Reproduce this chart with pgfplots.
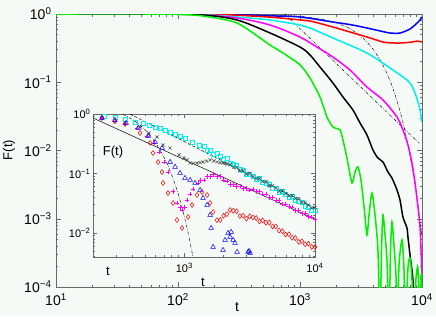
\documentclass[border=0pt]{standalone}
\usepackage{fontspec}
\setmainfont{Liberation Sans}
\usepackage{pgfplots}
\pgfplotsset{compat=1.18}
\definecolor{bg}{RGB}{246,250,246}
\definecolor{axgray}{RGB}{105,105,105}
\definecolor{mblue}{RGB}{0,0,255}
\definecolor{mred}{RGB}{255,0,0}
\definecolor{mcyan}{RGB}{0,238,238}
\definecolor{mmag}{RGB}{255,0,255}
\definecolor{mgreen}{RGB}{0,240,0}
\tikzset{dd/.style={black, line width=0.45pt, dash pattern=on 3pt off 1.5pt on 0.6pt off 1.5pt}}
\begin{document}
\begin{tikzpicture}[x=1pt,y=1pt]
\useasboundingbox (0,0) rectangle (436,316);
\fill[bg] (0,0) rectangle (436,316);
% ---------------- main axis ----------------
\begin{axis}[
  xmode=log, ymode=log,
  scale only axis, anchor=south west,
  at={(56pt,29pt)}, width=366pt, height=273pt,
  xmin=10, xmax=10000, ymin=1e-4, ymax=1,
  axis line style={axgray, line width=0.6pt},
  every tick/.style={axgray, line width=0.5pt},
  tick align=inside,
  axis background/.style={fill=bg},
  major tick length=5pt, minor tick length=2.5pt,
  xtick={10,100,1000,10000},
  xticklabels={10\textsuperscript{1},10\textsuperscript{2},10\textsuperscript{3},10\textsuperscript{4}},
  ytick={0.0001,0.001,0.01,0.1,1},
  yticklabels={10\textsuperscript{−4},10\textsuperscript{−3},10\textsuperscript{−2},10\textsuperscript{−1},10\textsuperscript{0}},
  minor xtick={20,30,40,50,60,70,80,90,200,300,400,500,600,700,800,900,2000,3000,4000,5000,6000,7000,8000,9000},
  minor ytick={0.0002,0.0003,0.0004,0.0005,0.0006,0.0007,0.0008,0.0009,0.002,0.003,0.004,0.005,0.006,0.007,0.008,0.009,0.02,0.03,0.04,0.05,0.06,0.07,0.08,0.09,0.2,0.3,0.4,0.5,0.6,0.7,0.8,0.9},
  ticklabel style={font=\fontsize{14}{14}\selectfont},
  xticklabel style={yshift=-3pt},
  yticklabel style={xshift=-1pt},
]
% dash-dot guide lines
\addplot[dd] coordinates {(300,0.993)(1000,0.9277)(1500,0.8446)(2000,0.7406)(2500,0.6256)(3000,0.5089)(3500,0.3987)(4000,0.3009)(4500,0.2187)(5000,0.1531)(5500,0.1033)(6000,0.0671)(6500,0.0420)(7000,0.02527)(7500,0.01467)(8000,0.00819)(8500,0.00441)(9000,0.00229)(9500,0.00114)(10000,0.00055)};
\addplot[dd] coordinates {(750,1.0)(9500,0.01274)};
% blue
\addplot[mblue, line width=1.5pt, smooth] coordinates {(10,1)(100,1)(200,0.995)(305,0.975)(568,0.94)(1000,0.904)(1862,0.763)(2570,0.70)(3540,0.624)(4529,0.565)(5470,0.527)(6607,0.527)(7980,0.603)(8933,0.714)(9638,0.817)(10000,0.904)};
% red
\addplot[mred, line width=1.5pt, smooth] coordinates {(10,1)(100,1)(200,0.99)(305,0.96)(568,0.90)(1000,0.82)(1208,0.79)(1862,0.645)(3540,0.46)(4786,0.389)(5500,0.378)(6607,0.376)(8000,0.385)(9099,0.40)(10000,0.389)};
% cyan
\addplot[mcyan, line width=1.5pt, smooth] coordinates {(10,1)(100,1)(160,0.98)(305,0.904)(568,0.817)(1000,0.69)(1208,0.624)(1862,0.445)(3540,0.268)(5781,0.151)(7534,0.108)(8279,0.088)(8770,0.0695)(9268,0.0514)(9638,0.0392)(10000,0.0262)};
% magenta
\addplot[mmag, line width=1.5pt, smooth] coordinates {(10,1)(86,1)(160,0.967)(305,0.874)(568,0.69)(1000,0.46)(1377,0.328)(1862,0.234)(2570,0.151)(3540,0.0851)(4786,0.055)(6237,0.031)(6982,0.020)(7674,0.01205)(8279,0.00656)(8770,0.00334)(9268,0.00149)(9638,0.000757)(9817,0.000348)(10000,0.00016)(10100,0.00004)};
% black
\addplot[black, line width=1.5pt, smooth] coordinates {(10,1)(58.9,1)(160,0.967)(305,0.817)(568,0.527)(1000,0.328)(1208,0.251)(1459,0.167)(1862,0.0975)(2250,0.0608)(2718,0.0392)(3105,0.0253)(3540,0.0169)(3963,0.01017)(4355,0.00776)(4786,0.00679)(5260,0.00484)(5675,0.00395)(6237,0.00264)(6607,0.00188)(6982,0.00106)(7534,0.000731)(7674,0.000541)(7980,0.000294)(8279,0.000177)(8433,0.000127)(8770,0.00005)};
% green
\addplot[mgreen, line width=1.5pt, smooth, tension=0.4] coordinates {(10,1)(58.9,1)(100,0.99)(160,0.935)(305,0.738)(568,0.351)(726,0.268)(1000,0.18)(1208,0.115)(1459,0.0608)(1663,0.031)(1862,0.0221)(2128,0.020)(2250,0.01426)(2427,0.00776)(2667,0.00334)(2825,0.00484)(2985,0.00574)(3162,0.0037)(3350,0.00149)(3540,0.000578)(3681,0.00114)(3890,0.00238)(4121,0.00114)(4355,0.000348)(4529,0.00003)(4656,0.000348)(4786,0.00114)(4977,0.000578)(5164,0.000249)(5370,0.00003)(5521,0.000348)(5675,0.000895)(5888,0.000412)(6120,0.00015)(6295,0.00003)(6477,0.00021)(6855,0.000489)(7112,0.00019)(7322,0.00003)(7674,0.00019)(7980,0.000266)(8279,0.000127)(8511,0.00003)(8933,0.000135)(9268,0.00019)(9550,0.00003)(9817,0.00015)(10000,0.00008)};
\end{axis}
% ---------------- inset ----------------
\begin{axis}[
  xmode=log, ymode=log,
  scale only axis, anchor=south west,
  at={(93pt,59pt)}, width=222pt, height=143pt,
  xmin=200, xmax=10000, ymin=0.00395, ymax=1,
  axis line style={axgray, line width=0.6pt},
  every tick/.style={axgray, line width=0.5pt},
  tick align=inside,
  axis background/.style={fill=bg},
  major tick length=4pt, minor tick length=2pt,
  xtick={1000,10000},
  xticklabels={10\textsuperscript{3},10\textsuperscript{4}},
  ytick={0.01,0.1,1},
  yticklabels={10\textsuperscript{−2},10\textsuperscript{−1},10\textsuperscript{0}},
  minor xtick={300,400,500,600,700,800,900,2000,3000,4000,5000,6000,7000,8000,9000},
  minor ytick={0.004,0.005,0.006,0.007,0.008,0.009,0.02,0.03,0.04,0.05,0.06,0.07,0.08,0.09,0.2,0.3,0.4,0.5,0.6,0.7,0.8,0.9},
  ticklabel style={font=\fontsize{11}{11}\selectfont},
  yticklabel style={xshift=1pt},
  xticklabel style={yshift=-3pt},
]
% cyan squares
\addplot[only marks, mark=square, mark size=2pt, mcyan, mark options={line width=0.55pt}] coordinates {(243,0.925)(294,0.891)(352,0.824)(419,0.734)(483,0.706)(537,0.653)(597,0.605)(652,0.582)(711,0.538)(778,0.498)(849,0.461)(927,0.427)(1012,0.395)(1146,0.338)(1297,0.301)(1413,0.288)(1496,0.248)(1585,0.245)(1679,0.211)(1778,0.216)(1884,0.195)(1995,0.174)(2113,0.178)(2239,0.151)(2371,0.1445)(2512,0.138)(2661,0.1175)(2818,0.1148)(2985,0.0977)(3162,0.0989)(3350,0.0891)(3548,0.0794)(3758,0.0822)(3981,0.0708)(4217,0.0684)(4467,0.0661)(4732,0.0569)(5012,0.0562)(5309,0.0484)(5623,0.0495)(5957,0.0447)(6310,0.0398)(6683,0.0412)(7079,0.0355)(7499,0.0343)(7943,0.0331)(8414,0.0285)(8913,0.0275)(9441,0.0237)(10000,0.0237)};
% black x
\addplot[only marks, mark=x, mark size=2.2pt, black!75, mark options={line width=0.5pt}] coordinates {(234,0.857)(294,0.734)(352,0.706)(458,0.605)(537,0.480)(618,0.410)(687,0.301)(778,0.268)(912,0.205)(995,0.182)(1050,0.169)(1107,0.150)(1180,0.148)(1250,0.150)(1320,0.153)(1390,0.156)(1480,0.162)(1574,0.169)(1680,0.163)(1782,0.156)(1880,0.152)(1977,0.150)(2050,0.147)(2113,0.1445)(2239,0.141)(2371,0.126)(2512,0.127)(2661,0.111)(2818,0.112)(2985,0.0977)(3162,0.101)(3350,0.0891)(3548,0.0822)(3758,0.0832)(3981,0.0733)(4217,0.0733)(4467,0.0617)(4732,0.0624)(5012,0.0569)(5309,0.0501)(5623,0.0519)(5957,0.0457)(6310,0.0422)(6683,0.0427)(7079,0.0380)(7499,0.0380)(7943,0.0324)(8414,0.0324)(8913,0.0295)(9441,0.0263)(10000,0.0269)};
% magenta +
\addplot[only marks, mark=+, mark size=2.3pt, mmag, mark options={line width=0.55pt}] coordinates {(234,0.857)(294,0.762)(352,0.679)(434,0.582)(518,0.427)(586,0.326)(640,0.230)(700,0.156)(750,0.106)(820,0.05)(879,0.032)(927,0.027)(960,0.0244)(1000,0.027)(1050,0.0359)(1107,0.0452)(1167,0.0549)(1274,0.0692)(1334,0.0759)(1413,0.0776)(1496,0.0885)(1585,0.0891)(1679,0.0973)(1778,0.0881)(1884,0.0891)(1995,0.0776)(2113,0.0750)(2239,0.0653)(2371,0.0653)(2512,0.0603)(2661,0.0615)(2818,0.0556)(2985,0.0565)(3162,0.0527)(3350,0.0547)(3548,0.0495)(3758,0.0507)(3981,0.0454)(4217,0.0452)(4467,0.0396)(4732,0.0394)(5012,0.0355)(5309,0.0352)(5623,0.0309)(5957,0.0308)(6310,0.0276)(6683,0.0275)(7079,0.0241)(7499,0.0240)(7943,0.0215)(8414,0.0214)(8913,0.0188)(9441,0.0187)(10000,0.0168)};
% red diamonds
\addplot[only marks, mark=diamond, mark size=2.5pt, mred, mark options={line width=0.5pt}] coordinates {(234,0.857)(294,0.762)(352,0.679)(458,0.480)(547,0.326)(576,0.221)(630,0.156)(675,0.106)(687,0.0692)(750,0.0470)(820,0.0319)(879,0.0165)(960,0.0121)(1069,0.0186)(1146,0.0296)(1250,0.0435)(1368,0.0489)(1493,0.0435)(1574,0.0319)(1660,0.0225)(1778,0.0164)(1884,0.0166)(1995,0.0195)(2113,0.0207)(2239,0.0243)(2371,0.0237)(2512,0.0232)(2661,0.0193)(2818,0.0195)(2985,0.0174)(3162,0.0191)(3350,0.0182)(3548,0.0178)(3758,0.0157)(3981,0.0162)(4217,0.0149)(4467,0.0150)(4732,0.0129)(5012,0.0129)(5309,0.0110)(5623,0.0107)(5957,0.00944)(6310,0.00955)(6683,0.00832)(7079,0.00822)(7499,0.00708)(7943,0.00724)(8414,0.00646)(8913,0.00661)(9441,0.00582)(10000,0.00582)};
% blue triangles
\addplot[only marks, mark=triangle, mark size=2.7pt, mblue, mark options={line width=0.5pt}] coordinates {(234,0.857)(294,0.793)(358,0.706)(443,0.582)(527,0.427)(597,0.338)(675,0.268)(778,0.156)(849,0.129)(927,0.102)(1012,0.0840)(1107,0.0778)(1208,0.0692)(1318,0.0528)(1390,0.0387)(1493,0.0296)(1574,0.0201)(1603,0.0121)(1660,0.00582)(1977,0.00518)(2051,0.00762)(2163,0.0100)(2239,0.00857)(2280,0.0104)(2360,0.00762)(2443,0.00679)(2535,0.00480)(3076,0.00480)(3130,0.00498)(3184,0.00461)};
% guide lines
\addplot[black, line width=0.5pt] coordinates {(200,0.857)(10000,0.0171)};
\addplot[black, line width=0.5pt, dash pattern=on 3pt off 2pt] coordinates {(384,1.0)(10000,0.0263)};
\addplot[dd] coordinates {(340,0.990)(400,0.812)(450,0.672)(500,0.543)(550,0.429)(600,0.332)(650,0.251)(700,0.186)(750,0.1345)(800,0.0951)(850,0.0657)(900,0.0444)(950,0.0293)(1000,0.0190)(1050,0.0120)(1100,0.00743)(1150,0.00449)(1175,0.00346)};
\end{axis}
% ---------------- labels ----------------
\node[rotate=90, font=\fontsize{13}{13}\selectfont] at (9,166) {F(t)};
\node[font=\fontsize{14}{14}\selectfont] at (237,9) {t};
\node[font=\fontsize{13}{13}\selectfont] at (203,34) {t};
\node[font=\fontsize{13}{13}\selectfont] at (108,45) {t};
\node[font=\fontsize{13}{13}\selectfont] at (113,164) {F(t)};
\end{tikzpicture}
\end{document}
